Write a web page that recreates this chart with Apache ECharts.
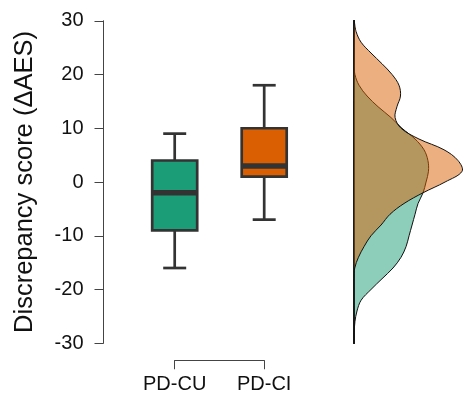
<!DOCTYPE html>
<html>
<head>
<meta charset="utf-8">
<script src="https://cdn.jsdelivr.net/npm/echarts@6/dist/echarts.min.js"></script>
<style>
html, body { margin: 0; padding: 0; background: #fff; }
#main { width: 466px; height: 395px; }
</style>
</head>
<body>
<div id="main"></div>
<script>
// box plot data
var categories = ['PD-CU', 'PD-CI'];
var boxColors = ['#1b9e77', '#d95f02'];
var whiskerLow = [-16, -7];
var q1 = [-9, 1];
var median = [-2, 3];
var q3 = [4, 10];
var whiskerHigh = [9, 18];

// y axis range
var yMin = -30, yMax = 30, yStep = 10;

// density curves
var densityY = [-30, -28, -26, -24, -22, -20, -18, -16, -14, -12, -10, -8, -6, -4, -2, 0,
                2, 4, 6, 8, 10, 12, 14, 16, 18, 20, 22, 24, 26, 28, 30];
var densityCU = [0, 0.0001, 0.0005, 0.0016, 0.0038, 0.0091, 0.0150, 0.0209, 0.0252, 0.0279, 0.0295,
                 0.0311, 0.0327, 0.0343, 0.0370, 0.0386, 0.0399, 0.0396, 0.0375, 0.0327, 0.0257,
                 0.0198, 0.0129, 0.0070, 0.0027, 0.0005, 0, 0, 0, 0, 0];
var densityCI = [0, 0, 0, 0, 0, 0, 0, 0.0004, 0.0024, 0.0054, 0.0091, 0.0145, 0.0193, 0.0268, 0.0370,
                 0.0488, 0.0579, 0.0557, 0.0482, 0.0348, 0.0252, 0.0220, 0.0230, 0.0249, 0.0241,
                 0.0204, 0.0150, 0.0091, 0.0038, 0.0011, 0];
var densityFill = ['rgba(27,158,119,0.5)', 'rgba(217,95,2,0.5)'];

var fontFamily = '"Liberation Sans", Arial, Helvetica, sans-serif';
var edge = '#333';

// box + whiskers, R style (caps half as wide as the box)
function renderBox(params, api) {
    var i = params.dataIndex;
    var x = api.coord([i, median[i]])[0];
    var yLo = api.coord([i, whiskerLow[i]])[1];
    var yQ1 = api.coord([i, q1[i]])[1];
    var yMed = api.coord([i, median[i]])[1];
    var yQ3 = api.coord([i, q3[i]])[1];
    var yHi = api.coord([i, whiskerHigh[i]])[1];
    var hw = 22.5, cw = 11.5;
    var ln = { stroke: edge, lineWidth: 2.7 };
    return {
        type: 'group',
        children: [
            { type: 'line', shape: { x1: x, y1: yHi, x2: x, y2: yQ3 }, style: ln },
            { type: 'line', shape: { x1: x, y1: yQ1, x2: x, y2: yLo }, style: ln },
            { type: 'line', shape: { x1: x - cw, y1: yHi, x2: x + cw, y2: yHi }, style: ln },
            { type: 'line', shape: { x1: x - cw, y1: yLo, x2: x + cw, y2: yLo }, style: ln },
            { type: 'rect', shape: { x: x - hw, y: yQ3, width: hw * 2, height: yQ1 - yQ3 },
              style: { fill: boxColors[i], stroke: edge, lineWidth: 2.7 } },
            { type: 'line', shape: { x1: x - hw, y1: yMed, x2: x + hw, y2: yMed },
              style: { stroke: edge, lineWidth: 5.5 } }
        ]
    };
}

// half violin as a closed polygon against the baseline
function densityRenderer(values, color) {
    return function (params, api) {
        var pts = [];
        for (var k = 0; k < densityY.length; k++) {
            pts.push(api.coord([values[k], densityY[k]]));
        }
        return {
            type: 'polygon',
            shape: { points: pts, smooth: 0.35 },
            style: { fill: color, stroke: '#111', lineWidth: 1 }
        };
    };
}

var myChart = echarts.init(document.getElementById('main'), null, { renderer: 'canvas' });

var option = {
    animation: false,
    backgroundColor: '#fff',
    textStyle: { fontFamily: fontFamily },
    grid: [
        { left: 174.7, right: 201.8, top: 20.75, bottom: 51.75, containLabel: false, outerBoundsMode: 'none' },
        { left: 354, right: 0, top: 20.75, bottom: 51.75, containLabel: false, outerBoundsMode: 'none' }
    ],
    xAxis: [
        {
            gridIndex: 0,
            type: 'category',
            data: categories,
            boundaryGap: false,
            offset: 17,
            axisLine: { onZero: false, lineStyle: { color: '#444', width: 1 } },
            axisTick: { show: true, length: 9, alignWithLabel: true, lineStyle: { color: '#444' } },
            axisLabel: { color: '#111', fontSize: 20, margin: 14, fontFamily: fontFamily },
            splitLine: { show: false }
        },
        {
            gridIndex: 1,
            type: 'value',
            min: 0,
            max: 0.06,
            show: false
        }
    ],
    yAxis: [
        {
            gridIndex: 0,
            type: 'value',
            min: yMin,
            max: yMax,
            interval: yStep,
            offset: 71.2,
            name: 'Discrepancy score (ΔAES)',
            nameLocation: 'middle',
            nameGap: 66,
            nameTextStyle: { color: '#111', fontSize: 25.5, fontFamily: fontFamily },
            axisLine: { show: true, lineStyle: { color: '#444', width: 1 } },
            axisTick: { show: true, length: 9, lineStyle: { color: '#444' } },
            axisLabel: { color: '#111', fontSize: 20, margin: 20, fontFamily: fontFamily },
            splitLine: { show: false }
        },
        {
            gridIndex: 1,
            type: 'value',
            min: yMin,
            max: yMax,
            axisLine: { show: true, onZero: false, lineStyle: { color: '#222', width: 1.5 } },
            axisTick: { show: false },
            axisLabel: { show: false },
            splitLine: { show: false }
        }
    ],
    series: [
        {
            type: 'custom',
            xAxisIndex: 0,
            yAxisIndex: 0,
            renderItem: renderBox,
            encode: { x: 0, y: 1 },
            data: categories.map(function (c, i) { return [i, median[i]]; }),
            clip: false
        },
        {
            type: 'custom',
            xAxisIndex: 1,
            yAxisIndex: 1,
            renderItem: densityRenderer(densityCU, densityFill[0]),
            encode: { x: 0, y: 1 },
            data: [[0, 0]],
            clip: false,
            z: 2
        },
        {
            type: 'custom',
            xAxisIndex: 1,
            yAxisIndex: 1,
            renderItem: densityRenderer(densityCI, densityFill[1]),
            encode: { x: 0, y: 1 },
            data: [[0, 0]],
            clip: false,
            z: 3
        }
    ]
};

myChart.setOption(option);
</script>
</body>
</html>
